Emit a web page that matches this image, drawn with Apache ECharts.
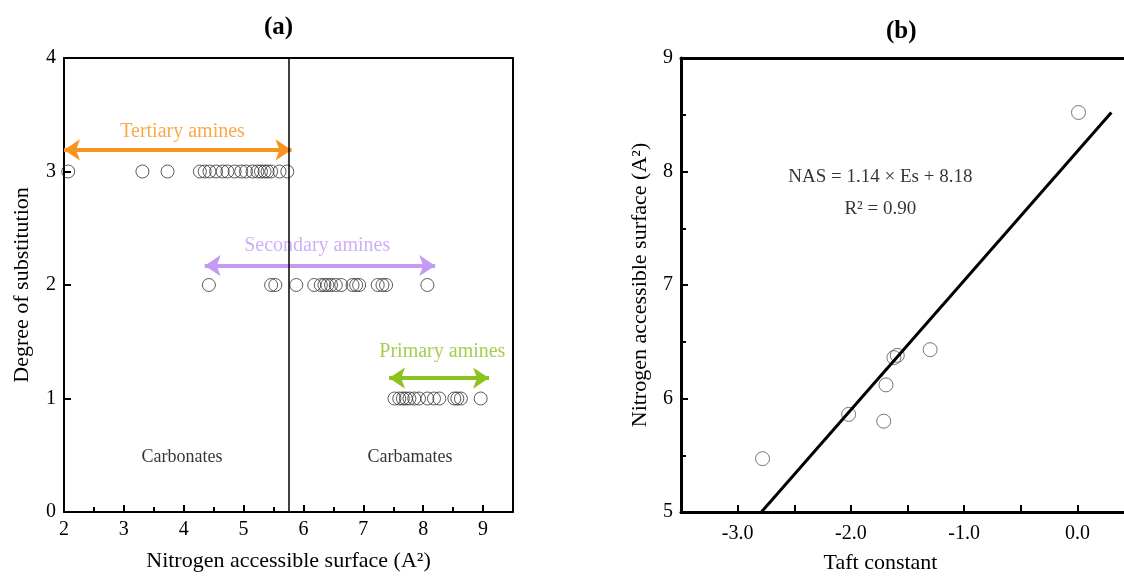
<!DOCTYPE html>
<html><head><meta charset="utf-8">
<script src="https://cdn.jsdelivr.net/npm/echarts@6/dist/echarts.min.js"></script>
<style>html,body{margin:0;padding:0;background:#fff}#c{width:1124px;height:580px}</style>
</head><body><div id="c"></div>
<script>
// ---- Panel (a) data ----
const tertiaryX = [2.07,3.31,3.73,4.27,4.35,4.43,4.54,4.65,4.73,4.85,4.96,5.04,5.15,5.23,5.29,5.35,5.40,5.46,5.60,5.73];
const secondaryX = [4.42,5.46,5.53,5.88,6.18,6.29,6.35,6.40,6.46,6.54,6.63,6.82,6.88,6.93,7.24,7.32,7.38,8.07];
const primaryX = [7.52,7.60,7.66,7.71,7.77,7.85,7.93,8.07,8.18,8.27,8.52,8.57,8.63,8.96];
const degrees = [3,2,1];
const boundaryX = 5.75;
const arrowTertiary = [[2.0,3.19],[5.8,3.19]];
const arrowSecondary = [[4.35,2.17],[8.2,2.17]];
const arrowPrimary = [[7.43,1.18],[9.1,1.18]];
// ---- Panel (b) data ----
const taftX = [-2.78,-2.02,-1.71,-1.69,-1.62,-1.59,-1.30,0.01];
const nasY  = [5.47,5.86,5.80,6.12,6.36,6.38,6.43,8.52];
const fitLine = [[-2.79,5.0],[0.3,8.52]];

const FONT = '"Liberation Serif","Times New Roman",serif';
const black = '#000';
const orange = '#F7941D', purple = '#C49AF2', green = '#8DC21F';

const chart = echarts.init(document.getElementById('c'));

function pts(xs, y){ return xs.map(x=>[x,y]); }
function arrowML(seg,color){
  return {silent:true,symbol:['arrow','arrow'],symbolSize:[16,16],
    lineStyle:{color:color,width:4,type:'solid'},label:{show:false},
    data:[[{coord:seg[0]},{coord:seg[1]}]]};
}
function textSeries(xi,yi,x,y,txt,color,size){
  return {type:'scatter',xAxisIndex:xi,yAxisIndex:yi,symbolSize:0,silent:true,data:[[x,y]],
    label:{show:true,position:'inside',formatter:txt,color:color,fontFamily:FONT,fontSize:size}};
}
const circle = {color:'rgba(0,0,0,0)',borderColor:'#333',borderWidth:1};

function frameAxis(grid,pos,min,max,w){
  return {gridIndex:grid,type:'value',position:pos,min:min,max:max,
    axisLine:{show:true,onZero:false,lineStyle:{color:black,width:w}},
    axisTick:{show:false},axisLabel:{show:false},splitLine:{show:false}};
}
function mainAxis(extra,w){
  return Object.assign({
    axisLine:{show:true,onZero:false,lineStyle:{color:black,width:w}},
    axisTick:{inside:true,length:7,lineStyle:{color:black,width:2}},
    axisLabel:{color:black,fontFamily:FONT,fontSize:20,margin:8},
    splitLine:{show:false},
    nameTextStyle:{color:black,fontFamily:FONT,fontSize:22},
    nameLocation:'middle'
  },extra);
}
const minor = {show:true,splitNumber:2,length:5,lineStyle:{color:black,width:2}};
const lbl = (o)=>Object.assign({color:black,fontFamily:FONT,fontSize:20,margin:8},o);

chart.setOption({
  animation:false,
  backgroundColor:'#fff',
  graphic:[
    {type:'text',left:264,top:15,style:{text:'(a)',font:'bold 25px '+FONT,fill:black}},
    {type:'text',left:886,top:19,style:{text:'(b)',font:'bold 25px '+FONT,fill:black}}
  ],
  grid:[
    {left:64,top:58,width:449,height:454,outerBoundsMode:'none',containLabel:false},
    {left:681,top:58,width:453,height:454,outerBoundsMode:'none',containLabel:false}
  ],
  xAxis:[
    mainAxis({gridIndex:0,type:'value',min:2,max:9.5,interval:1,
      name:'Nitrogen accessible surface (A²)',nameGap:38,minorTick:minor,
      axisLabel:lbl({formatter:v=>v===9.5?'':String(v)})},2),
    frameAxis(0,'top',2,9.5,2),
    mainAxis({gridIndex:1,type:'value',min:-3.5,max:0.5,interval:0.5,
      name:'Taft constant',nameGap:40,
      nameTextStyle:{color:black,fontFamily:FONT,fontSize:22,padding:[0,54,0,0]},
      axisLabel:lbl({margin:12,formatter:v=>Number.isInteger(v)&&v>-3.5?v.toFixed(1):''})},3),
    frameAxis(1,'top',-3.5,0.5,3)
  ],
  yAxis:[
    mainAxis({gridIndex:0,type:'value',min:0,max:4,interval:1,
      name:'Degree of substitution',nameGap:31},2),
    frameAxis(0,'right',0,4,2),
    mainAxis({gridIndex:1,type:'value',min:5,max:9,interval:1,
      name:'Nitrogen accessible surface (A²)',nameGap:30,minorTick:minor},3),
    frameAxis(1,'right',5,9,3)
  ],
  series:[
    {type:'scatter',xAxisIndex:0,yAxisIndex:0,symbol:'circle',symbolSize:13,itemStyle:circle,
      data:pts(tertiaryX,degrees[0]),markLine:arrowML(arrowTertiary,orange)},
    {type:'scatter',xAxisIndex:0,yAxisIndex:0,symbol:'circle',symbolSize:13,itemStyle:circle,
      data:pts(secondaryX,degrees[1]),markLine:arrowML(arrowSecondary,purple)},
    {type:'scatter',xAxisIndex:0,yAxisIndex:0,symbol:'circle',symbolSize:13,itemStyle:circle,
      data:pts(primaryX,degrees[2]),markLine:arrowML(arrowPrimary,green)},
    {type:'line',xAxisIndex:0,yAxisIndex:0,data:[],silent:true,
      markLine:{silent:true,symbol:['none','none'],label:{show:false},lineStyle:{color:black,width:1.5,type:'solid'},
        data:[{xAxis:boundaryX}]}},
    textSeries(0,0,3.98,3.35,'Tertiary amines',orange,20),
    textSeries(0,0,6.23,2.35,'Secondary amines',purple,20),
    textSeries(0,0,8.32,1.41,'Primary amines',green,20),
    textSeries(0,0,3.97,0.48,'Carbonates',black,18),
    textSeries(0,0,7.78,0.48,'Carbamates',black,18),
    {type:'scatter',xAxisIndex:2,yAxisIndex:2,symbol:'circle',symbolSize:14,itemStyle:{color:'rgba(0,0,0,0)',borderColor:'#555',borderWidth:1},
      data:taftX.map((x,i)=>[x,nasY[i]])},
    {type:'line',xAxisIndex:2,yAxisIndex:2,data:fitLine,symbol:'none',lineStyle:{color:black,width:3},silent:true},
    textSeries(2,2,-1.74,7.95,'NAS = 1.14 × Es + 8.18',black,19),
    textSeries(2,2,-1.74,7.67,'R² = 0.90',black,19)
  ]
});
</script>
</body></html>
